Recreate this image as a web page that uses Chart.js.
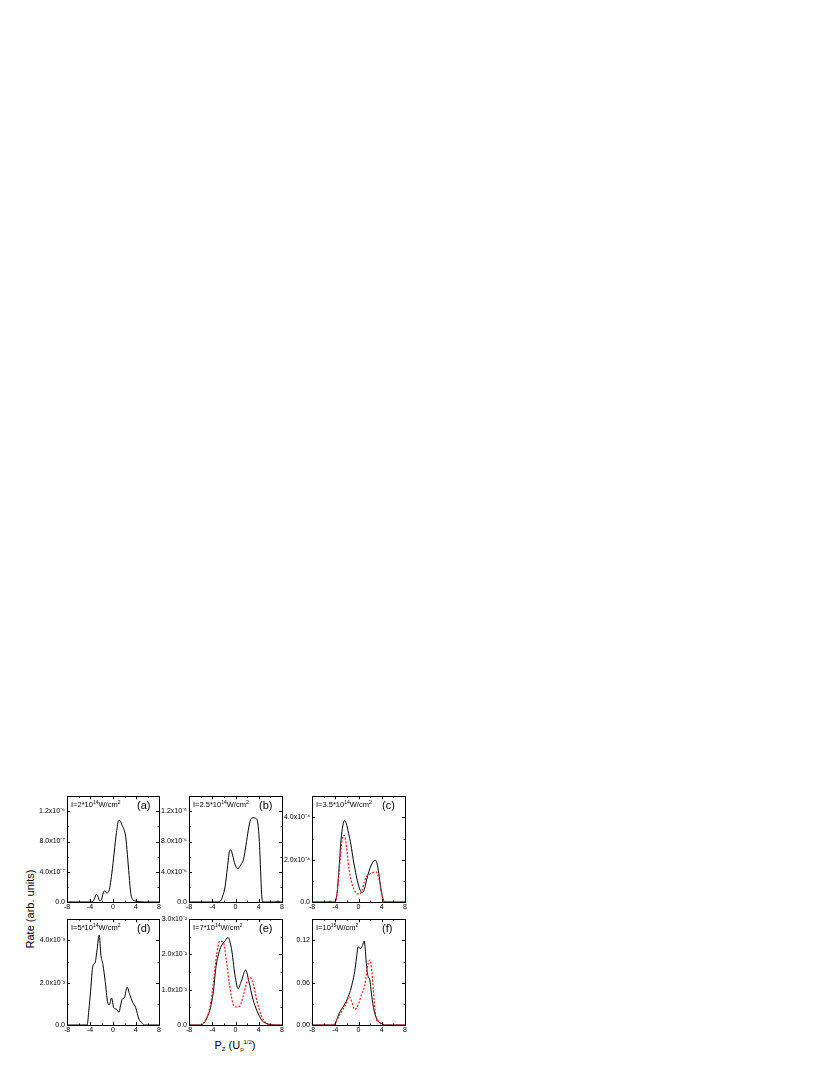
<!DOCTYPE html>
<html>
<head>
<meta charset="utf-8">
<script src="https://cdn.jsdelivr.net/npm/chart.js@4.4.1/dist/chart.umd.min.js"></script>
<style>
  body { margin: 0; background: #fff; width: 830px; height: 1075px; position: relative; overflow: hidden;
         font-family: "Liberation Sans", Arial, sans-serif; color: #000; }
  canvas { position: absolute; }
  .lbl { position: absolute; font-size: 7.5px; line-height: 8px; white-space: nowrap; }
  .lbl sup { font-size: 5px; vertical-align: 3px; line-height: 0; }
  .tag { position: absolute; font-size: 11px; line-height: 11px; }
  .ytitle { position: absolute; font-size: 11px; white-space: nowrap; transform: translate(-50%, -50%) rotate(-90deg); }
  .xtitle { position: absolute; font-size: 11px; white-space: nowrap; transform: translate(-50%, -50%); }
  .xtitle sub { font-size: 6px; vertical-align: -2px; }
  .xtitle sup { font-size: 6px; vertical-align: 5px; }
</style>
</head>
<body>
<div class="ytitle" style="left:30px; top:909px;">Rate (arb. units)</div>
<div class="xtitle" style="left:235px; top:1045px;">P<sub>Z</sub> (U<sub>p</sub><sup>1/2</sup>)</div>
<script>
// x ticks shared by every panel
const xTickVals = [-8, -4, 0, 4, 8];
const xTickLabels = ['-8', '-4', '0', '4', '8'];

// (a) I=2*10^14, values in 1e-7
const aX = [-8, -4, -3.5, -3.2, -2.9, -2.6, -2.3, -2.0, -1.7, -1.4, -1.1, -0.8, -0.5, -0.2, 0.2, 0.6, 1.0, 1.3, 1.6, 1.9, 2.2, 2.5, 2.8, 3.1, 3.4, 3.8, 4.5, 5.5, 8];
const aY = [0, 0, 0.05, 0.5, 1.0, 0.7, 0.15, 0.35, 1.2, 1.5, 1.2, 1.3, 2.2, 3.8, 6.5, 9.2, 10.8, 10.7, 10.1, 9.6, 8.7, 6.3, 3.5, 1.1, 0.35, 0.15, 0.05, 0, 0];
const aTickVals = [0, 4, 8, 12];
const aTickLabels = ['0.0', '4.0x10⁻⁷', '8.0x10⁻⁷', '1.2x10⁻⁶'];

// (b) I=2.5*10^14, values in 1e-6
const bX = [-8, -3, -2.6, -2.2, -1.8, -1.4, -1.0, -0.8, -0.5, -0.1, 0.4, 0.9, 1.4, 1.8, 2.2, 2.6, 3.0, 3.4, 3.8, 4.1, 4.3, 4.5, 4.7, 6.8, 7.3, 7.7, 8];
const bY = [0, 0, 0.1, 0.8, 2.0, 4.5, 6.8, 6.9, 6.2, 5.0, 4.4, 4.9, 5.7, 7.5, 9.5, 10.9, 11.15, 11.1, 10.6, 8.0, 4.5, 1.0, 0, 0, 0.12, 0, 0];
const bTickVals = [0, 4, 8, 12];
const bTickLabels = ['0.0', '4.0x10⁻⁶', '8.0x10⁻⁶', '1.2x10⁻⁵'];

// (c) I=3.5*10^14, values in 1e-4
const cX = [-8, -5.2, -4.9, -4.6, -4.1, -3.7, -3.4, -3.0, -2.7, -2.4, -2.1, -1.7, -1.3, -0.9, -0.5, -0.1, 0.3, 0.6, 1.0, 1.4, 1.8, 2.2, 2.6, 2.9, 3.2, 3.5, 3.8, 4.1, 4.5, 8];
const cY = [0, 0, 0.04, 0, 0, 0.4, 1.4, 2.95, 3.6, 3.85, 3.7, 3.25, 2.7, 2.0, 1.4, 0.9, 0.55, 0.45, 0.6, 1.05, 1.45, 1.75, 1.93, 1.97, 1.8, 1.35, 0.7, 0.25, 0, 0];
const cRedX = [-8, -4.1, -3.7, -3.4, -3.0, -2.8, -2.5, -2.2, -1.9, -1.6, -1.3, -1.0, -0.6, -0.2, 0.2, 0.6, 1.0, 1.4, 1.8, 2.2, 2.6, 3.0, 3.3, 3.6, 3.9, 4.2, 4.5, 8];
const cRedY = [0, 0, 0.35, 1.2, 2.5, 3.0, 3.15, 2.9, 2.2, 1.5, 1.05, 0.75, 0.5, 0.38, 0.38, 0.55, 0.95, 1.2, 1.3, 1.35, 1.4, 1.42, 1.3, 1.0, 0.55, 0.15, 0, 0];
const cTickVals = [0, 2, 4];
const cTickLabels = ['0.0', '2.0x10⁻⁴', '4.0x10⁻⁴'];

// (d) I=5*10^14, values in 1e-3
const dX = [-8, -4.5, -4.2, -3.9, -3.5, -3.1, -2.8, -2.4, -2.1, -1.75, -1.35, -0.95, -0.65, -0.25, 0.15, 0.6, 1.05, 1.3, 1.6, 2.0, 2.45, 2.9, 3.4, 3.95, 4.5, 5.0, 5.4, 8];
const dY = [0, 0, 0.7, 1.6, 2.8, 2.95, 3.5, 4.25, 3.3, 2.85, 2.05, 1.1, 0.95, 1.28, 0.8, 0.75, 0.6, 0.9, 1.22, 1.3, 1.78, 1.45, 1.08, 0.82, 0.28, 0.12, 0, 0];
const dTickVals = [0, 2, 4];
const dTickLabels = ['0.0', '2.0x10⁻³', '4.0x10⁻³'];

// (e) I=7*10^14, values in 1e-2
const eX = [-8, -5.9, -5.4, -5.0, -4.6, -4.3, -3.8, -3.4, -2.8, -2.3, -1.9, -1.3, -0.7, -0.1, 0.45, 1.0, 1.75, 2.3, 3.0, 3.7, 4.6, 5.6, 7.0, 8];
const eY = [0, 0, 0.06, 0.17, 0.33, 0.49, 0.96, 1.6, 2.08, 2.28, 2.36, 2.48, 2.17, 1.42, 1.03, 1.24, 1.56, 1.24, 0.73, 0.40, 0.12, 0.03, 0, 0];
const eRedX = [-8, -5.9, -5.4, -5.0, -4.6, -4.3, -3.8, -3.25, -2.7, -2.1, -1.55, -0.95, -0.4, 0.15, 0.75, 1.4, 2.0, 2.55, 3.15, 3.7, 4.45, 5.3, 6.0, 8];
const eRedY = [0, 0, 0.07, 0.19, 0.37, 0.59, 1.19, 1.99, 2.38, 2.34, 1.8, 1.05, 0.59, 0.51, 0.54, 0.87, 1.24, 1.35, 1.1, 0.68, 0.26, 0.05, 0, 0];
const eTickVals = [0, 1, 2, 3];
const eTickLabels = ['0.0', '1.0x10⁻²', '2.0x10⁻²', '3.0x10⁻²'];

// (f) I=10^15
const fX = [-8, -4.3, -4.0, -3.8, -3.4, -2.95, -2.55, -2.3, -2.05, -1.8, -1.5, -1.05, -0.65, -0.35, -0.05, 0.35, 0.7, 0.98, 1.2, 1.38, 1.65, 1.95, 2.25, 2.7, 3.2, 3.95, 4.5, 8];
const fY = [0, 0, 0.002, 0.006, 0.015, 0.022, 0.027, 0.031, 0.034, 0.04, 0.046, 0.06, 0.076, 0.095, 0.111, 0.108, 0.113, 0.119, 0.104, 0.083, 0.069, 0.064, 0.043, 0.020, 0.008, 0.002, 0, 0];
const fRedX = [-8, -4.5, -4.1, -3.35, -2.75, -2.2, -1.6, -1.2, -0.65, -0.05, 0.5, 1.1, 1.5, 1.95, 2.3, 2.65, 3.0, 3.3, 3.55, 3.9, 8];
const fRedY = [0, 0, 0.001, 0.013, 0.021, 0.029, 0.040, 0.034, 0.022, 0.029, 0.043, 0.057, 0.081, 0.092, 0.076, 0.039, 0.011, 0.004, 0.006, 0, 0];
const fTickVals = [0, 0.06, 0.12];
const fTickLabels = ['0.00', '0.06', '0.12'];

const FONT = '"Liberation Sans", Arial, sans-serif';
const PAD_L = 48, PAD_R = 4, PAD_T = 4, X_H = 14, PANEL_H = 108;

// box with inward ticks on all four sides
const boxTicks = {
    id: 'boxTicks',
    afterDraw(chart, args, opts) {
        const ctx = chart.ctx;
        const a = chart.chartArea;
        const xs = chart.scales.x, ys = chart.scales.y;
        ctx.save();
        ctx.strokeStyle = '#000';
        ctx.lineWidth = 1;
        ctx.strokeRect(Math.round(a.left) + 0.5, Math.round(a.top) + 0.5,
                       Math.round(a.right - a.left), Math.round(a.bottom - a.top));
        ctx.beginPath();
        for (let v = xs.min; v <= xs.max + 1e-9; v += 2) {
            const px = Math.round(xs.getPixelForValue(v)) + 0.5;
            const len = Math.abs(v % 4) < 1e-9 ? 3 : 1.5;
            ctx.moveTo(px, a.bottom); ctx.lineTo(px, a.bottom - len);
            ctx.moveTo(px, a.top); ctx.lineTo(px, a.top + len);
        }
        const n = Math.round((ys.max - ys.min) / opts.minor);
        for (let i = 0; i <= n; i++) {
            const v = ys.min + i * opts.minor;
            const py = Math.round(ys.getPixelForValue(v)) + 0.5;
            const major = opts.major.some(m => Math.abs(m - v) < opts.minor * 0.01);
            const len = major ? 3 : 1.5;
            ctx.moveTo(a.left, py); ctx.lineTo(a.left + len, py);
            ctx.moveTo(a.right, py); ctx.lineTo(a.right - len, py);
        }
        ctx.stroke();
        ctx.restore();
    }
};

function toPoints(xs, ys) {
    return xs.map((x, i) => ({x: x, y: ys[i]}));
}

function makePanel(left, top, width, p) {
    const canvas = document.createElement('canvas');
    canvas.width = PAD_L + width + PAD_R;
    canvas.height = PAD_T + PANEL_H + X_H;
    canvas.style.left = (left - PAD_L) + 'px';
    canvas.style.top = (top - PAD_T) + 'px';
    document.body.appendChild(canvas);

    const datasets = [{
        data: toPoints(p.x, p.y),
        borderColor: '#000', borderWidth: 1, pointRadius: 0,
        cubicInterpolationMode: 'monotone', order: 1
    }];
    if (p.redX) {
        datasets.push({
            data: toPoints(p.redX, p.redY),
            borderColor: '#ff1a1a', borderWidth: 1.2, borderDash: [2, 1.6], pointRadius: 0,
            cubicInterpolationMode: 'monotone', order: 0
        });
    }

    new Chart(canvas.getContext('2d'), {
        type: 'line',
        data: { datasets: datasets },
        plugins: [boxTicks],
        options: {
            responsive: false, animation: false, devicePixelRatio: 1,
            layout: { padding: { left: 0, right: PAD_R, top: PAD_T, bottom: 0 } },
            plugins: {
                legend: { display: false }, tooltip: { enabled: false },
                boxTicks: { major: p.tickVals, minor: p.minor }
            },
            scales: {
                x: {
                    type: 'linear', min: -8, max: 8,
                    grid: { display: false, drawTicks: false, tickLength: 0 },
                    border: { display: false },
                    afterBuildTicks: s => { s.ticks = xTickVals.map(v => ({value: v})); },
                    afterFit: s => { s.height = X_H; },
                    ticks: {
                        padding: 1, maxRotation: 0, autoSkip: false, color: '#000',
                        font: { family: FONT, size: 7 },
                        callback: (v, i) => xTickLabels[i]
                    }
                },
                y: {
                    type: 'linear', min: 0, max: p.yMax,
                    grid: { display: false, drawTicks: false, tickLength: 0 },
                    border: { display: false },
                    afterBuildTicks: s => { s.ticks = p.tickVals.map(v => ({value: v})); },
                    afterFit: s => { s.width = PAD_L; },
                    ticks: {
                        padding: 2, autoSkip: false, color: '#000',
                        font: { family: FONT, size: 7 },
                        callback: (v, i) => p.tickLabels[i]
                    }
                }
            }
        }
    });

    const lbl = document.createElement('div');
    lbl.className = 'lbl';
    lbl.style.left = (left + 4) + 'px';
    lbl.style.top = (top + 7) + 'px';
    lbl.innerHTML = p.title;
    document.body.appendChild(lbl);

    const tag = document.createElement('div');
    tag.className = 'tag';
    tag.style.left = (left + 70) + 'px';
    tag.style.top = (top + 6) + 'px';
    tag.textContent = p.tag;
    document.body.appendChild(tag);
}

const colLeft = [67, 189, 312];
const colWidth = [92, 93, 93];
const rowTop = [794, 917];

makePanel(colLeft[0], rowTop[0], colWidth[0], { x: aX, y: aY, yMax: 14, tickVals: aTickVals, tickLabels: aTickLabels, minor: 2,
    title: 'I=2*10<sup>14</sup>W/cm<sup>2</sup>', tag: '(a)' });
makePanel(colLeft[1], rowTop[0], colWidth[1], { x: bX, y: bY, yMax: 14, tickVals: bTickVals, tickLabels: bTickLabels, minor: 2,
    title: 'I=2.5*10<sup>14</sup>W/cm<sup>2</sup>', tag: '(b)' });
makePanel(colLeft[2], rowTop[0], colWidth[2], { x: cX, y: cY, redX: cRedX, redY: cRedY, yMax: 5, tickVals: cTickVals, tickLabels: cTickLabels, minor: 1,
    title: 'I=3.5*10<sup>14</sup>W/cm<sup>2</sup>', tag: '(c)' });
makePanel(colLeft[0], rowTop[1], colWidth[0], { x: dX, y: dY, yMax: 5, tickVals: dTickVals, tickLabels: dTickLabels, minor: 1,
    title: 'I=5*10<sup>14</sup>W/cm<sup>2</sup>', tag: '(d)' });
makePanel(colLeft[1], rowTop[1], colWidth[1], { x: eX, y: eY, redX: eRedX, redY: eRedY, yMax: 3, tickVals: eTickVals, tickLabels: eTickLabels, minor: 0.5,
    title: 'I=7*10<sup>14</sup>W/cm<sup>2</sup>', tag: '(e)' });
makePanel(colLeft[2], rowTop[1], colWidth[2], { x: fX, y: fY, redX: fRedX, redY: fRedY, yMax: 0.15, tickVals: fTickVals, tickLabels: fTickLabels, minor: 0.03,
    title: 'I=10<sup>15</sup>W/cm<sup>2</sup>', tag: '(f)' });
</script>
</body>
</html>
